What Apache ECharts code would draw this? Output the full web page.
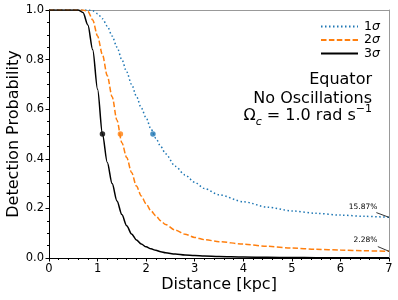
<!DOCTYPE html>
<html>
<head>
<meta charset="utf-8">
<script src="https://cdn.jsdelivr.net/npm/echarts@6/dist/echarts.min.js"></script>
<style>html,body{margin:0;padding:0;background:#fff}#c{width:398px;height:300px}</style>
</head>
<body>
<div id="c"></div>
<script>
// ---- data ----
const distance = [0,0.5,0.6,0.7,0.8,0.9,1.0,1.1,1.2,1.3,1.4,1.5,1.6,1.7,1.8,1.9,2.0,2.1,2.2,2.3,2.4,2.6,2.8,3.0,3.2,3.5,4.0,4.5,5.0,5.5,6.0,6.5,7.0];
const prob1sigma = [1,1,1,1,1,0.997,0.985,0.965,0.935,0.895,0.85,0.80,0.75,0.70,0.652,0.605,0.565,0.52,0.483,0.45,0.42,0.37,0.335,0.305,0.28,0.255,0.227,0.205,0.19,0.18,0.173,0.168,0.164];
const prob2sigma = [1,1,1,1,0.995,0.96,0.895,0.82,0.735,0.65,0.555,0.465,0.405,0.345,0.29,0.25,0.218,0.19,0.17,0.15,0.135,0.112,0.096,0.083,0.074,0.066,0.056,0.047,0.04,0.035,0.032,0.029,0.027];
const prob3sigma = [1,1,1,0.99,0.94,0.84,0.68,0.50,0.385,0.30,0.23,0.175,0.13,0.097,0.073,0.056,0.045,0.037,0.031,0.025,0.021,0.016,0.012,0.01,0.008,0.006,0.004,0.003,0.002,0.0015,0.001,0.001,0.001];
const seriesNames = ['1σ','2σ','3σ'];
const halfDistance = [2.14, 1.47, 1.10];   // distance where probability = 0.5
const halfProb = 0.5;
const xTicks = [0,1,2,3,4,5,6,7];
const yTicks = [0.0,0.2,0.4,0.6,0.8,1.0];
const annotText = ['15.87%','2.28%'];
const annotTextPos = [[6.76,0.207],[6.76,0.073]];
const annotLineFrom = [[6.74,0.183],[6.77,0.046]];
const annotLineTo = [[7.0,0.164],[7.0,0.027]];
const infoLines = ['Equator','No Oscillations'];

// ---- chart ----
const colors = ['#1f77b4','#ff7f0e','#000000'];
const dashes = [[1.5,2.5],[5.5,2.4],'solid'];
const probs = [prob1sigma, prob2sigma, prob3sigma];
const font = 'DejaVu Sans';

const chart = echarts.init(document.getElementById('c'), null, {renderer:'canvas'});

const series = [];
probs.forEach((p,i)=>{
  series.push({
    name: seriesNames[i], type:'line', xAxisIndex:0, yAxisIndex:0,
    data: distance.map((d,k)=>[d,p[k]]),
    symbol:'none', smooth:0.3, smoothMonotone:'x',
    lineStyle:{color:colors[i], width:1.5, type:dashes[i]},
    itemStyle:{color:colors[i]}, z:3
  });
});
halfDistance.forEach((d,i)=>{
  series.push({
    name:'half'+i, type:'scatter', xAxisIndex:0, yAxisIndex:0,
    data:[[d,halfProb]], symbol:'circle', symbolSize:5.5,
    itemStyle:{color:colors[i]}, z:4
  });
});

const axisBase = {
  axisLine:{show:true, lineStyle:{color:'#000', width:1}},
  splitLine:{show:false}
};

chart.setOption({
  animation:false,
  grid:{left:49, right:9, top:10, bottom:42, containLabel:false, outerBoundsMode:'none'},
  legend:{
    data: seriesNames, orient:'vertical', left:315, top:15,
    itemWidth:37, itemHeight:13, itemGap:0.5,
    itemStyle:{opacity:0},
    textStyle:{fontFamily:font, fontSize:12.5, color:'#000', padding:[0,0,0,1],
      rich:{n:{fontFamily:font,fontSize:12.5}, i:{fontFamily:font,fontSize:12.5,fontStyle:'italic'}}},
    formatter: n => '{n|'+n.slice(0,1)+'}{i|'+n.slice(1)+'}'
  },
  xAxis:[
    Object.assign({}, axisBase, {
      type:'value', min:xTicks[0], max:xTicks[xTicks.length-1], interval:1,
      name:'Distance [kpc]', nameLocation:'middle', nameGap:19, nameMoveOverlap:false,
      nameTextStyle:{fontFamily:font, fontSize:16, color:'#000'},
      axisTick:{show:true, inside:false, length:3.5, lineStyle:{color:'#000'}},
      minorTick:{show:true, splitNumber:5, length:2, lineStyle:{color:'#000'}},
      axisLabel:{fontFamily:font, fontSize:11.5, color:'#000', margin:5}
    }),
    {type:'value', position:'top', min:0, max:7, axisLine:{show:true, onZero:false, lineStyle:{color:'#999', width:1}},
     axisTick:{show:false}, axisLabel:{show:false}, splitLine:{show:false}}
  ],
  yAxis:[
    Object.assign({}, axisBase, {
      type:'value', min:yTicks[0], max:yTicks[yTicks.length-1], interval:0.2,
      name:'Detection Probability', nameLocation:'middle', nameGap:27.5, nameMoveOverlap:false,
      nameTextStyle:{fontFamily:font, fontSize:16, color:'#000'},
      axisTick:{show:true, inside:false, length:3.5, lineStyle:{color:'#000'}},
      minorTick:{show:true, splitNumber:4, length:2, lineStyle:{color:'#000'}},
      axisLabel:{fontFamily:font, fontSize:11.5, color:'#000', margin:5, formatter:v=>v.toFixed(1)}
    }),
    {type:'value', position:'right', min:0, max:1, axisLine:{show:true, onZero:false, lineStyle:{color:'#999', width:1}},
     axisTick:{show:false}, axisLabel:{show:false}, splitLine:{show:false}}
  ],
  series: series
});

// annotations placed through the grid's coordinate system
const px = c => chart.convertToPixel({xAxisIndex:0, yAxisIndex:0}, c);
const graphics = [];
annotText.forEach((t,i)=>{
  const p = px(annotTextPos[i]);
  graphics.push({type:'text', x:p[0], y:p[1], z:10,
    style:{text:t, fontFamily:font, fontSize:7.5, fill:'#000', align:'right', verticalAlign:'middle'}});
  const a = px(annotLineFrom[i]), b = px(annotLineTo[i]);
  graphics.push({type:'line', z:10, shape:{x1:a[0],y1:a[1],x2:b[0],y2:b[1]}, style:{stroke:'#000', lineWidth:0.8}});
});
const infoY = [80, 99];
infoLines.forEach((t,i)=>{
  graphics.push({type:'text', x:372, y:infoY[i], z:10,
    style:{text:t, fontFamily:font, fontSize:16, fill:'#000', align:'right', verticalAlign:'middle'}});
});
graphics.push({type:'text', x:372, y:116, z:10,
  style:{text:'{a|Ω}{sub|c}{a| = 1.0 rad s}{sup|−1}', align:'right', verticalAlign:'middle', fill:'#000',
    rich:{
      a:{fontFamily:font, fontSize:16, lineHeight:24},
      sub:{fontFamily:font, fontSize:11, fontStyle:'italic', lineHeight:11, verticalAlign:'bottom'},
      sup:{fontFamily:font, fontSize:11, lineHeight:8, verticalAlign:'top'}
    }}});
chart.setOption({graphic: graphics});
</script>
</body>
</html>
